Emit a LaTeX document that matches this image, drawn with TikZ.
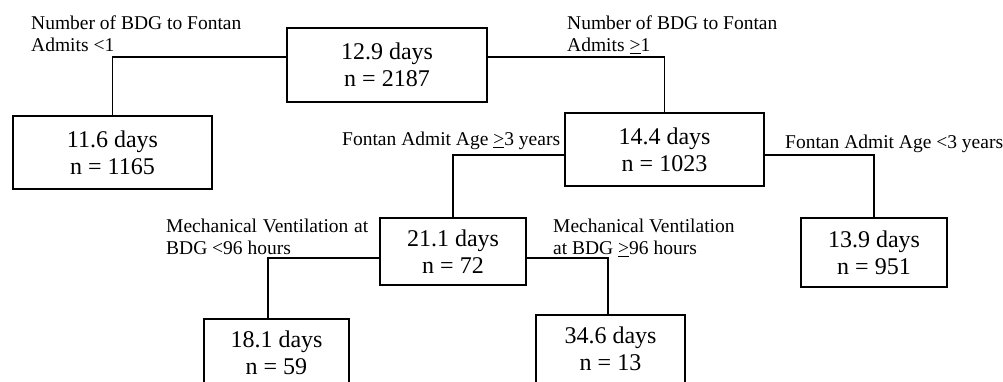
\documentclass[tikz,border=0pt]{standalone}
\usepackage{fontspec}
\setmainfont{Liberation Serif}
\usetikzlibrary{positioning}

\begin{document}
\begin{tikzpicture}[
    x=1pt, y=-1pt,
    box/.style={draw, line width=1.2pt, align=center, inner sep=0pt,
                font=\fontsize{24}{27}\selectfont},
    label/.style={inner sep=0pt, font=\fontsize{19.5}{22}\selectfont},
    branch/.style={line width=1.2pt}
  ]

  \clip (0,0) rectangle (1003,382);

  % Root split
  \node[box, minimum width=200, minimum height=74] (all) at (387,65) {12.9 days\\n = 2187};
  \node[box, minimum width=199, minimum height=73] (fewadm) at (112.5,152.5) {11.6 days\\n = 1165};
  \node[box, minimum width=199, minimum height=73] (moreadm) at (664.5,149.5) {14.4 days\\n = 1023};
  \draw[branch] ([yshift=8pt]all.west) -| (fewadm.north);
  \draw[branch] ([yshift=8pt]all.east) -| (moreadm.north);

  \node[label, align=left, anchor=north west] at (31,16) {Number of BDG to Fontan\\Admits <1};
  \node[label, align=left, anchor=north west] at (567,16) {Number of BDG to Fontan\\Admits \underline{>}1};

  % Fontan admit age
  \node[box, minimum width=146, minimum height=67] (older) at (453,251.5) {21.1 days\\n = 72};
  \node[box, minimum width=146, minimum height=69] (younger) at (874,252.5) {13.9 days\\n = 951};
  \draw[branch] ([yshift=-5.5pt]moreadm.west) -| (older.north);
  \draw[branch] ([yshift=-5.5pt]moreadm.east) -| (younger.north);

  \node[label, anchor=base west] at (342,146) {Fontan Admit Age \underline{>}3 years};
  \node[label, anchor=base west] at (785,149) {Fontan Admit Age <3 years};

  % Mechanical ventilation
  \node[box, minimum width=145, minimum height=68] (shortvent) at (276.5,353) {18.1 days\\n = 59};
  \node[box, minimum width=149, minimum height=68] (longvent) at (610.5,349) {34.6 days\\n = 13};
  \draw[branch] ([yshift=-6.5pt]older.west) -| ([xshift=-8.5pt]shortvent.north);
  \draw[branch] ([yshift=-6.5pt]older.east) -| ([xshift=-2.5pt]longvent.north);

  \node[label, text width=202, align=justify, anchor=north west] at (166,219)
    {Mechanical Ventilation at \linebreak BDG <96 hours};
  \node[label, align=left, anchor=north west] at (553,219) {Mechanical Ventilation\\at BDG \underline{>}96 hours};

\end{tikzpicture}
\end{document}
